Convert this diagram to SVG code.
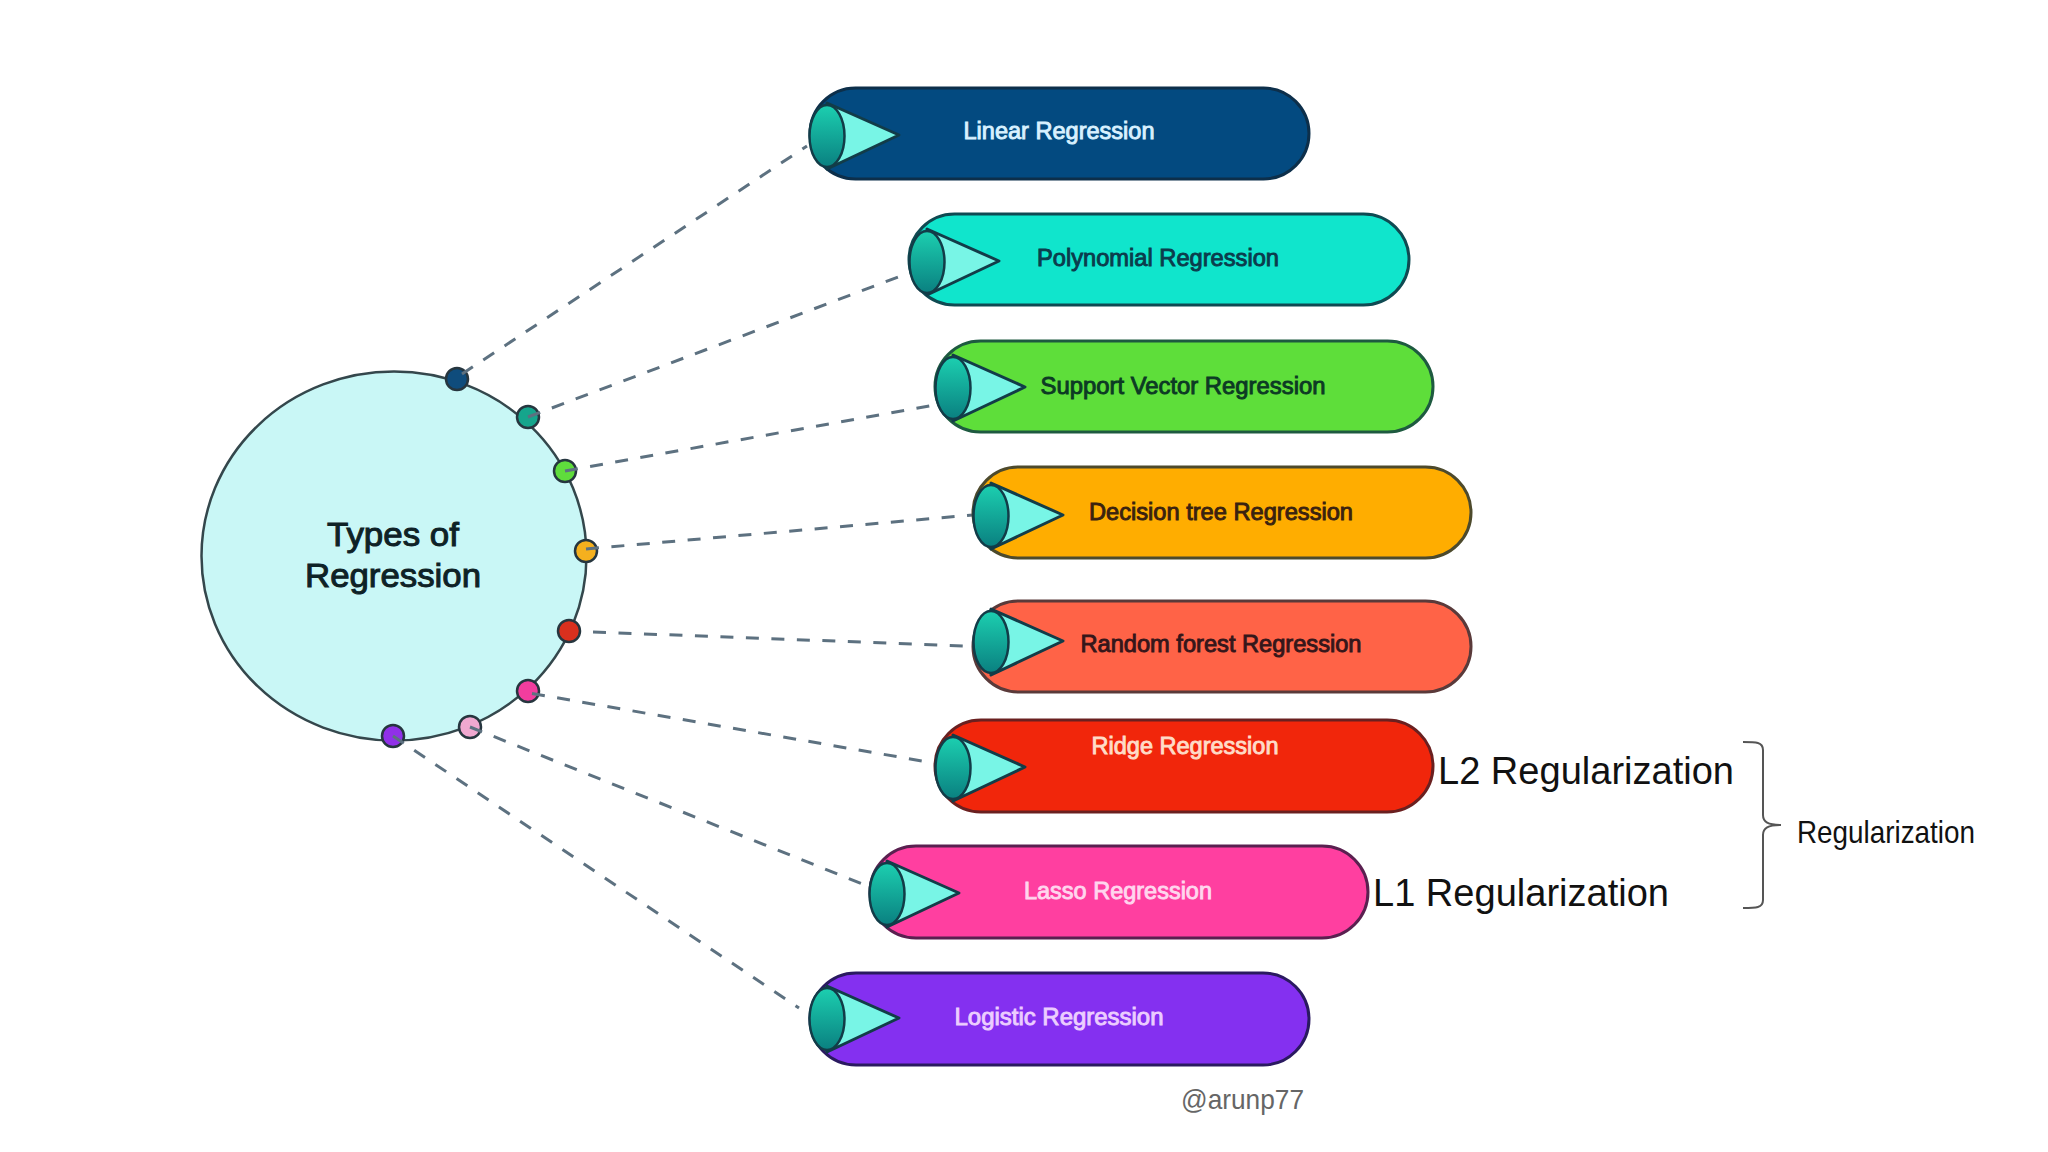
<svg xmlns="http://www.w3.org/2000/svg" xmlns:xlink="http://www.w3.org/1999/xlink" width="2048" height="1152" viewBox="0 0 2048 1152">
<style>
text{font-family:"Liberation Sans",Arial,sans-serif}
.pill{stroke-width:3}
.lab{font-size:23px;text-anchor:middle;stroke-width:.9px;paint-order:stroke}
.dot{stroke-width:2.5;stroke:#26363f}
.conn{fill:none;stroke:#5d7180;stroke-width:3;stroke-dasharray:13 12.5}
.reg{fill:#111}
</style>
<defs>
<linearGradient id="g" x1="0" y1="0" x2="0" y2="1"><stop offset="0" stop-color="#1ccfb0"/><stop offset="1" stop-color="#0a8080"/></linearGradient>
<g id="cone">
<path d="M18 16L90 48L18 82Z" fill="#78f5e6" stroke="#123c48" stroke-width="3" stroke-linejoin="round"/>
<ellipse cx="18" cy="49" rx="17.5" ry="31" fill="url(#g)" stroke="#123c48" stroke-width="2.5"/>
</g>
</defs>
<rect width="2048" height="1152" fill="#fff"/>

<g id="center">
<ellipse cx="394" cy="556" rx="192.5" ry="184.5" fill="#c9f7f6" stroke="#34474c" stroke-width="2.5"/>
<text x="393" y="546" font-size="34" text-anchor="middle" fill="#0e2226" stroke="#0e2226" stroke-width="1" textLength="132" lengthAdjust="spacingAndGlyphs">Types of</text>
<text x="393" y="587" font-size="34" text-anchor="middle" fill="#0e2226" stroke="#0e2226" stroke-width="1" textLength="176" lengthAdjust="spacingAndGlyphs">Regression</text>
</g>

<g id="ports">
<circle class="dot" cx="457" cy="379" r="11" fill="#0f4c7c"/>
<circle class="dot" cx="528" cy="417" r="11" fill="#15a58c"/>
<circle class="dot" cx="565" cy="471" r="11" fill="#5fdc3c"/>
<circle class="dot" cx="586" cy="551" r="11" fill="#f5b01e"/>
<circle class="dot" cx="569" cy="631" r="11" fill="#d9301e"/>
<circle class="dot" cx="528" cy="691" r="11" fill="#f23d9e"/>
<circle class="dot" cx="470" cy="727" r="11" fill="#f0a8d0"/>
<circle class="dot" cx="393" cy="736" r="11" fill="#9030e8"/>
</g>

<g id="connectors">
<line class="conn" x1="462" y1="374" x2="807" y2="146"/>
<line class="conn" x1="528" y1="417" x2="906" y2="274"/>
<line class="conn" x1="565" y1="471" x2="935" y2="405"/>
<line class="conn" x1="586" y1="549" x2="973" y2="515"/>
<line class="conn" x1="593" y1="632" x2="966" y2="646"/>
<line class="conn" x1="532" y1="693.5" x2="922" y2="761"/>
<line class="conn" x1="470" y1="727" x2="865" y2="885"/>
<line class="conn" x1="393" y1="736" x2="799" y2="1008"/>
</g>

<g id="linear">
<rect class="pill" x="810" y="88" width="499" height="91" rx="45.5" fill="#034a80" stroke="#0d2f4a"/>
<use href="#cone" x="809" y="87"/>
<text class="lab" x="1059" y="139" fill="#d8f1ff" stroke="#d8f1ff" textLength="191" lengthAdjust="spacingAndGlyphs">Linear Regression</text>
</g>
<g id="polynomial">
<rect class="pill" x="909" y="214" width="500" height="91" rx="45.5" fill="#10e5cc" stroke="#0f4a52"/>
<use href="#cone" x="909" y="213"/>
<text class="lab" x="1158" y="266" fill="#0b3c4c" stroke="#0b3c4c" textLength="242" lengthAdjust="spacingAndGlyphs">Polynomial Regression</text>
</g>
<g id="svr">
<rect class="pill" x="935" y="341" width="498" height="91" rx="45.5" fill="#5ede3a" stroke="#1e5a40"/>
<use href="#cone" x="935" y="339"/>
<text class="lab" x="1183" y="394" fill="#0c3a24" stroke="#0c3a24" textLength="285" lengthAdjust="spacingAndGlyphs">Support Vector Regression</text>
</g>
<g id="decision">
<rect class="pill" x="973" y="467" width="498" height="91" rx="45.5" fill="#ffad00" stroke="#4d4a2c"/>
<use href="#cone" x="973" y="467"/>
<text class="lab" x="1221" y="520" fill="#3a2210" stroke="#3a2210" textLength="264" lengthAdjust="spacingAndGlyphs">Decision tree Regression</text>
</g>
<g id="forest">
<rect class="pill" x="973" y="601" width="498" height="91" rx="45.5" fill="#ff6347" stroke="#5a3a3a"/>
<use href="#cone" x="973" y="593"/>
<text class="lab" x="1221" y="652" fill="#35161a" stroke="#35161a" textLength="281" lengthAdjust="spacingAndGlyphs">Random forest Regression</text>
</g>
<g id="ridge">
<rect class="pill" x="935" y="720" width="498" height="92" rx="46" fill="#f1260b" stroke="#6a2020"/>
<use href="#cone" x="935" y="719"/>
<text class="lab" x="1185" y="754" fill="#ffdcc8" stroke="#ffdcc8" textLength="187" lengthAdjust="spacingAndGlyphs">Ridge Regression</text>
</g>
<g id="lasso">
<rect class="pill" x="870" y="846" width="498" height="92" rx="46" fill="#ff3fa0" stroke="#5a2050"/>
<use href="#cone" x="869" y="845"/>
<text class="lab" x="1118" y="899" fill="#ffd6ee" stroke="#ffd6ee" textLength="188" lengthAdjust="spacingAndGlyphs">Lasso Regression</text>
</g>
<g id="logistic">
<rect class="pill" x="810" y="973" width="499" height="92" rx="46" fill="#8430f0" stroke="#2a1a60"/>
<use href="#cone" x="809" y="970"/>
<text class="lab" x="1059" y="1025" fill="#eccdff" stroke="#eccdff" textLength="209" lengthAdjust="spacingAndGlyphs">Logistic Regression</text>
</g>

<g id="annotations">
<text class="reg" x="1438" y="784" font-size="38" textLength="296" lengthAdjust="spacingAndGlyphs">L2 Regularization</text>
<text class="reg" x="1373" y="906" font-size="38" textLength="296" lengthAdjust="spacingAndGlyphs">L1 Regularization</text>
<text class="reg" x="1797" y="843" font-size="32" textLength="178" lengthAdjust="spacingAndGlyphs">Regularization</text>
<path d="M1743 742C1756 742 1763 742 1763 750V815C1763 822 1768 825 1781 825C1768 825 1763 828 1763 835V900C1763 908 1756 908 1743 908" fill="none" stroke="#555" stroke-width="2"/>
<text x="1181" y="1109" font-size="28" fill="#666" textLength="123" lengthAdjust="spacingAndGlyphs">@arunp77</text>
</g>
</svg>
